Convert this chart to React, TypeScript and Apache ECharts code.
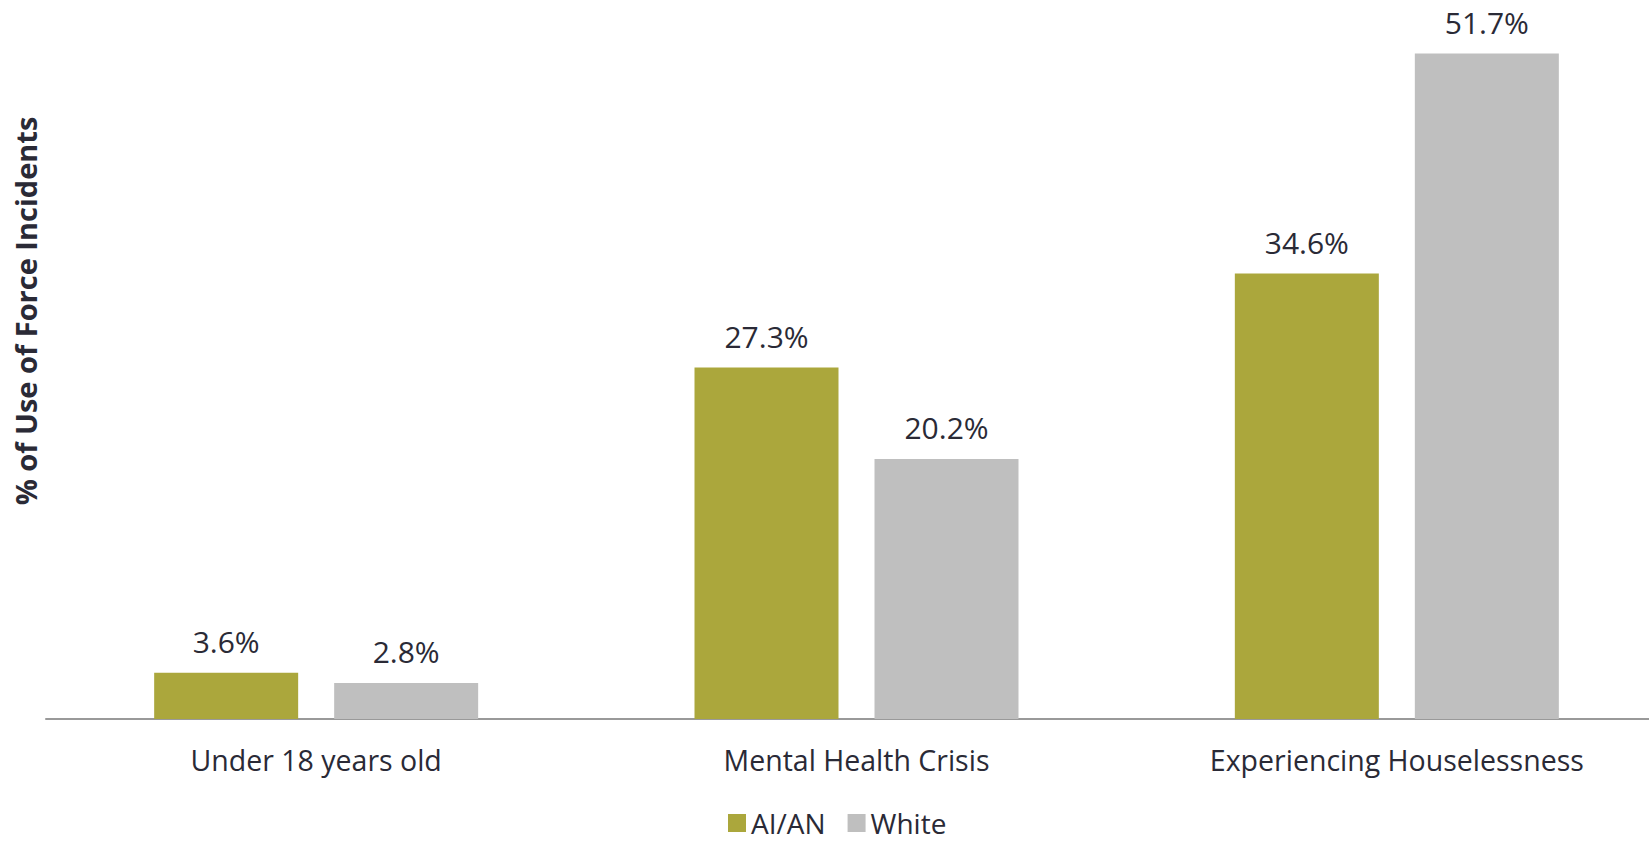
import React, { useEffect, useRef } from "react";
import * as echarts from "echarts";

const categories = ["Under 18 years old", "Mental Health Crisis", "Experiencing Houselessness"];
const aianValues = [3.6, 27.3, 34.6];
const whiteValues = [2.8, 20.2, 51.7];
const seriesNames = ["AI/AN", "White"];
const yTitle = "% of Use of Force Incidents";

const FONT = "'Open Sans', 'Noto Sans', sans-serif";
const TEXT = "#2a2a36";

export default function App() {
  const ref = useRef<HTMLDivElement>(null);
  useEffect(() => {
    if (!ref.current) return;
    const chart = echarts.init(ref.current, undefined, { renderer: "svg" });
    const label = {
      show: true,
      position: "top",
      distance: 16,
      fontFamily: FONT,
      fontSize: 30,
      color: TEXT,
      formatter: (p: any) => p.value.toFixed(1) + "%",
    };
    chart.setOption({
      animation: false,
      textStyle: { fontFamily: FONT },
      grid: { left: 46, width: 1621, top: 0, height: 719, outerBoundsMode: "none", containLabel: false },
      legend: {
        data: seriesNames,
        left: 728,
        top: 809,
        padding: 0,
        icon: "rect",
        itemWidth: 18,
        itemHeight: 18,
        itemGap: 22,
        textStyle: { fontFamily: FONT, fontSize: 28, color: TEXT, lineHeight: 22 },
      },
      xAxis: {
        type: "category",
        data: categories,
        axisLine: { lineStyle: { color: "#999999", width: 2 } },
        axisTick: { show: false },
        axisLabel: { fontFamily: FONT, fontSize: 28.5, color: TEXT, margin: 26 },
      },
      yAxis: {
        type: "value",
        min: 0,
        max: 55.85,
        show: false,
        splitLine: { show: false },
      },
      graphic: [
        {
          type: "text",
          x: 25,
          y: 311,
          rotation: Math.PI / 2,
          style: {
            text: yTitle,
            fontFamily: FONT,
            fontSize: 29,
            fontWeight: "bold",
            fill: TEXT,
            textAlign: "center",
            textVerticalAlign: "middle",
          },
        },
      ],
      series: [
        {
          name: seriesNames[0],
          type: "bar",
          data: aianValues,
          barWidth: 144,
          barGap: "25%",
          itemStyle: { color: "#aba73c" },
          label,
        },
        {
          name: seriesNames[1],
          type: "bar",
          data: whiteValues,
          barWidth: 144,
          itemStyle: { color: "#bfbfbf" },
          label,
        },
      ],
    });
    return () => chart.dispose();
  }, []);
  return (
    <div
      ref={ref}
      style={{ position: "absolute", left: 0, top: 0, width: 1649, height: 842, background: "#ffffff" }}
    />
  );
}
